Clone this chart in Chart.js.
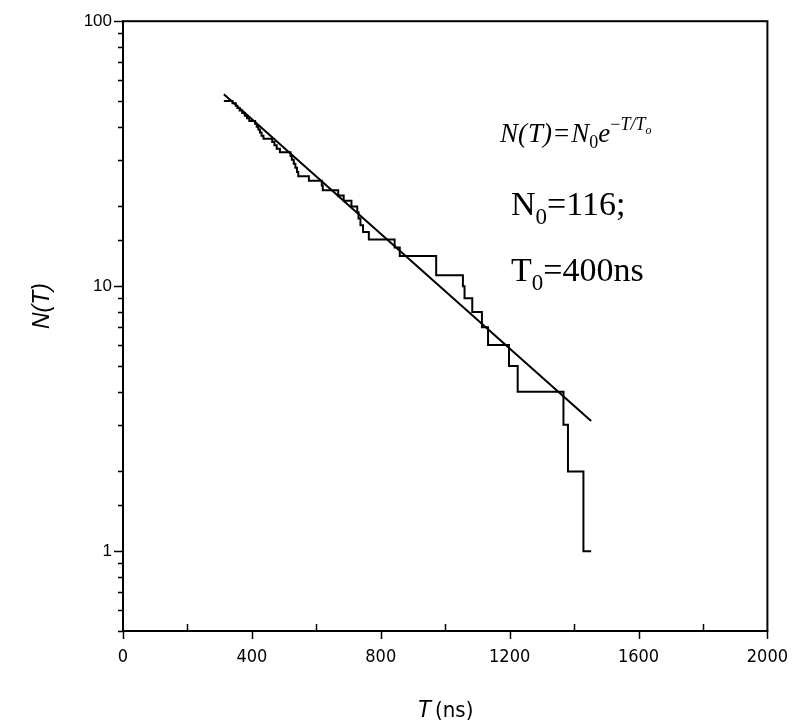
<!DOCTYPE html>
<html>
<head>
<meta charset="utf-8">
<script src="https://cdn.jsdelivr.net/npm/chart.js@4"></script>
<style>
  html, body { margin: 0; padding: 0; background: #fff; }
  #wrap { width: 804px; height: 727px; }
</style>
</head>
<body>
<div id="wrap"><canvas id="decayChart"></canvas></div>
<script>
// survival count N(T): time where the count drops (ns) and the new count
const stepTimes = [313, 340, 350, 355, 362, 370, 378, 385, 392, 410,
                   415, 420, 425, 430, 436, 463, 470, 477, 487, 520,
                   524, 530, 535, 540, 544, 577, 617, 620, 668, 685,
                   709, 727, 731, 737, 745, 763, 843, 859, 972, 972,
                   1055, 1060, 1084, 1114, 1133, 1198, 1225, 1367, 1381, 1429,
                   1453];
const stepCounts = [50, 49, 48, 47, 46, 45, 44, 43, 42, 41,
                    40, 39, 38, 37, 36, 35, 34, 33, 32, 31,
                    30, 29, 28, 27, 26, 25, 24, 23, 22, 21,
                    20, 19, 18, 17, 16, 15, 14, 13, 12, 11,
                    10, 9, 8, 7, 6, 5, 4, 3, 2, 1,
                    1];

// exponential fit, end points
const fitTimes = [313, 1453];
const fitCounts = [53, 3.1];

const xTickLabels = [0, 400, 800, 1200, 1600, 2000];
const yTickLabels = [1, 10, 100];

const stepData = stepTimes.map((t, i) => ({ x: t, y: stepCounts[i] }));
const fitData = fitTimes.map((t, i) => ({ x: t, y: fitCounts[i] }));

const sans = '"Liberation Sans", Arial, sans-serif';
const narrow = '"Liberation Sans Narrow", "Arial Narrow", "DejaVu Sans Condensed", "Liberation Sans", Arial, sans-serif';
const serif = '"Liberation Serif", "Times New Roman", serif';

// frame, tick marks, axis titles and the fit text
const decor = {
    id: 'decor',
    afterDraw(chart) {
        const ctx = chart.ctx;
        const a = chart.chartArea;
        const xs = chart.scales.x;
        const ys = chart.scales.y;

        ctx.save();
        ctx.strokeStyle = '#000';
        ctx.lineWidth = 2;
        ctx.strokeRect(a.left, a.top, a.right - a.left, a.bottom - a.top);

        ctx.lineWidth = 1.5;
        ctx.beginPath();
        ys.ticks.forEach(t => {
            const y = Math.round(ys.getPixelForValue(t.value)) + 0.5;
            const major = Number.isInteger(Math.log10(t.value));
            ctx.moveTo(a.left, y);
            ctx.lineTo(a.left - (major ? 9 : 5), y);
        });
        xs.ticks.forEach(t => {
            const x = Math.round(xs.getPixelForValue(t.value)) + 0.5;
            if (t.value % 400 === 0) {
                ctx.moveTo(x, a.bottom);
                ctx.lineTo(x, a.bottom + 8);
            } else {
                ctx.moveTo(x, a.bottom);
                ctx.lineTo(x, a.bottom - 7);
            }
        });
        ctx.stroke();

        ctx.fillStyle = '#000';
        // y title
        ctx.save();
        ctx.translate(43, 306);
        ctx.rotate(-Math.PI / 2);
        ctx.textAlign = 'center';
        ctx.textBaseline = 'middle';
        ctx.font = 'italic 23px ' + sans;
        ctx.fillText('N(T)', 0, 0);
        ctx.restore();

        // x title
        ctx.textBaseline = 'alphabetic';
        ctx.textAlign = 'left';
        ctx.font = 'italic 23px ' + sans;
        const tW = ctx.measureText('T').width;
        ctx.font = '22px ' + narrow;
        const nsW = ctx.measureText('(ns)').width;
        const tx = (a.left + a.right) / 2 - (tW + 4 + nsW) / 2;
        ctx.font = 'italic 23px ' + sans;
        ctx.fillText('T', tx, 717);
        ctx.font = '22px ' + narrow;
        ctx.fillText('(ns)', tx + tW + 4, 717);

        // formula
        let fx = 500;
        const fy = 142;
        const put = (txt, font, dy) => {
            ctx.font = font;
            ctx.fillText(txt, fx, fy + (dy || 0));
            fx += ctx.measureText(txt).width;
        };
        const it = 'italic 27px ' + serif;
        const sm = '18px ' + serif;
        const smi = 'italic 18px ' + serif;
        put('N', it); put('(', it); fx += 1; put('T', it); put(')', it);
        fx += 2; put('=', '27px ' + serif); fx += 2;
        put('N', it); put('0', sm, 6); put('e', it);
        put('\u2212', sm, -12); put('T', smi, -12); put('/', smi, -12); put('T', smi, -12);
        put('o', 'italic 12px ' + serif, -8);

        // parameters
        const big = '34px ' + serif;
        const sub = '23px ' + serif;
        fx = 511;
        ctx.font = big; ctx.fillText('N', fx, 215); fx += ctx.measureText('N').width;
        ctx.font = sub; ctx.fillText('0', fx, 224); fx += ctx.measureText('0').width;
        ctx.font = big; ctx.fillText('=116;', fx, 215);

        fx = 511;
        ctx.font = big; ctx.fillText('T', fx, 281); fx += ctx.measureText('T').width;
        ctx.font = sub; ctx.fillText('0', fx, 290); fx += ctx.measureText('0').width;
        ctx.font = big; ctx.fillText('=400ns', fx, 281);
        ctx.restore();
    }
};

new Chart(document.getElementById('decayChart'), {
    type: 'line',
    data: {
        datasets: [
            {
                label: 'N(T)',
                data: stepData,
                stepped: 'before',
                borderColor: '#000',
                borderWidth: 2,
                pointRadius: 0,
                fill: false
            },
            {
                label: 'fit',
                data: fitData,
                borderColor: '#000',
                borderWidth: 2,
                pointRadius: 0,
                fill: false
            }
        ]
    },
    options: {
        responsive: true,
        maintainAspectRatio: false,
        animation: false,
        layout: { padding: { left: 0, top: 18, right: 36, bottom: 0 } },
        plugins: {
            legend: { display: false },
            tooltip: { enabled: false }
        },
        scales: {
            x: {
                type: 'linear',
                min: 0,
                max: 2000,
                grid: { display: false, drawTicks: false },
                border: { display: false },
                afterFit: s => { s.height = 96; },
                ticks: {
                    stepSize: 200,
                    autoSkip: false,
                    maxRotation: 0,
                    padding: 16,
                    color: '#000',
                    font: { family: narrow, size: 18 },
                    callback: v => xTickLabels.includes(v) ? String(v) : ''
                }
            },
            y: {
                type: 'logarithmic',
                min: 0.5,
                max: 100,
                grid: { display: false, drawTicks: false },
                border: { display: false },
                afterFit: s => { s.width = 123; },
                ticks: {
                    autoSkip: false,
                    padding: 11,
                    color: '#000',
                    font: { family: sans, size: 17 },
                    callback: v => yTickLabels.includes(v) ? String(v) : ''
                }
            }
        }
    },
    plugins: [decor]
});
</script>
</body>
</html>
